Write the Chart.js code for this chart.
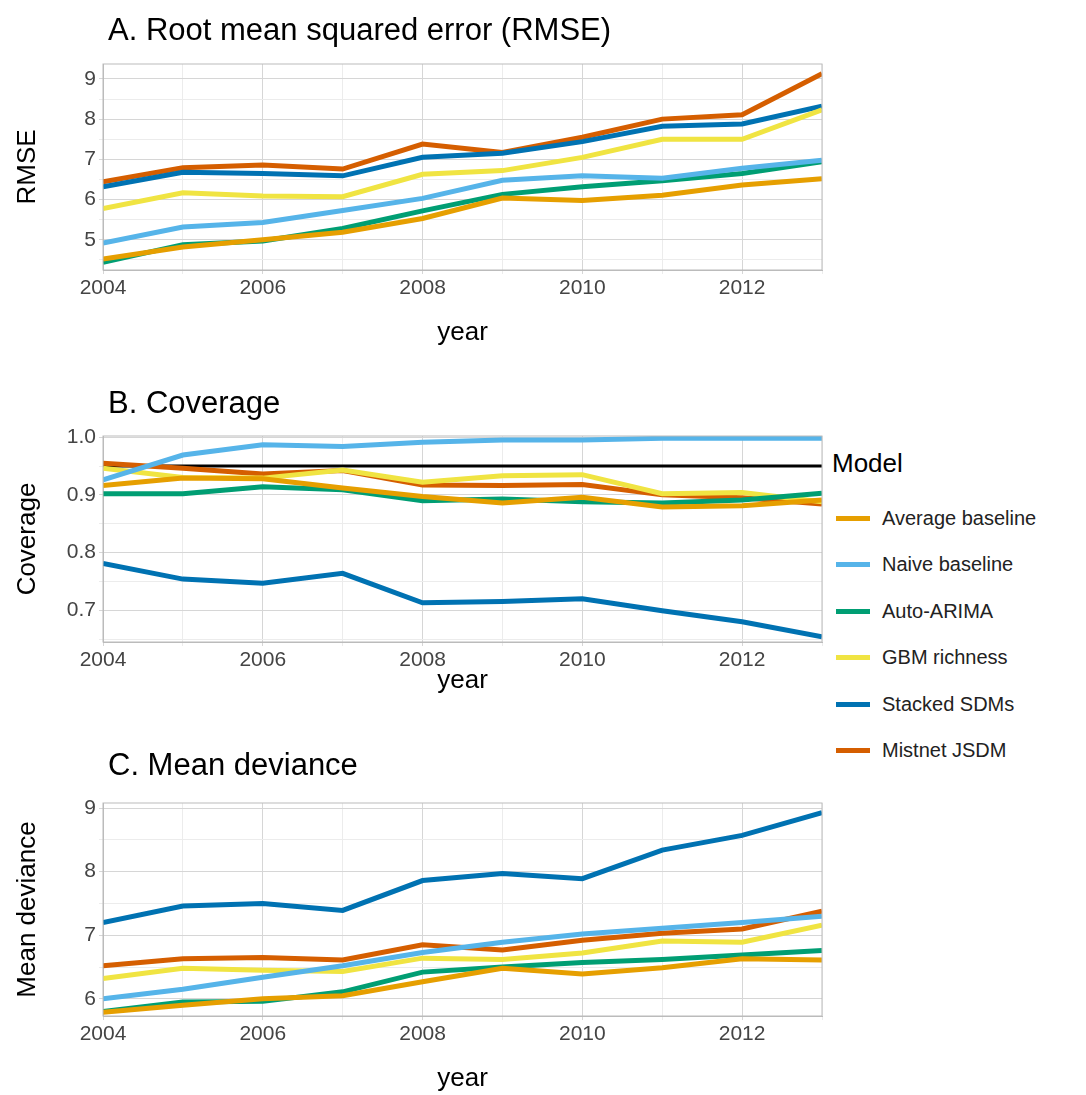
<!DOCTYPE html>
<html>
<head>
<meta charset="utf-8">
<script src="https://cdn.jsdelivr.net/npm/chart.js@4.4.0/dist/chart.umd.min.js"></script>
<style>
  body { margin: 0; background: #fff; font-family: "Liberation Sans", Arial, sans-serif; }
  .box { position: absolute; left: 0; width: 830px; }
  #legend { position: absolute; left: 832px; top: 448px; color: #000; }
  #legend .head { font-size: 26px; margin-bottom: 16px; }
  #legend .row { height: 46.5px; display: flex; align-items: center; font-size: 20px; color: #222; }
  #legend .sw { width: 34px; height: 5px; margin: 0 12px 0 4px; }
</style>
</head>
<body>
<div class="box" style="top:0;height:365px"><canvas id="cA"></canvas></div>
<div class="box" style="top:368px;height:367px"><canvas id="cB"></canvas></div>
<div class="box" style="top:740px;height:357px"><canvas id="cC"></canvas></div>
<div id="legend"></div>
<script>
const years = [2004, 2005, 2006, 2007, 2008, 2009, 2010, 2011, 2012, 2013];
const models = ['Average baseline', 'Naive baseline', 'Auto-ARIMA', 'GBM richness', 'Stacked SDMs', 'Mistnet JSDM'];
const colors = ['#E69F00', '#56B4E9', '#009E73', '#F0E442', '#0072B2', '#D55E00'];

const rmse = [
  [4.52, 4.82, 5.00, 5.19, 5.53, 6.04, 5.98, 6.11, 6.36, 6.52],
  [4.92, 5.32, 5.43, 5.73, 6.03, 6.48, 6.59, 6.53, 6.78, 6.98],
  [4.44, 4.88, 4.97, 5.28, 5.72, 6.13, 6.32, 6.47, 6.65, 6.94],
  [5.78, 6.17, 6.09, 6.07, 6.63, 6.72, 7.05, 7.50, 7.50, 8.23],
  [6.32, 6.68, 6.65, 6.59, 7.05, 7.15, 7.44, 7.82, 7.88, 8.32],
  [6.44, 6.79, 6.86, 6.76, 7.38, 7.17, 7.55, 8.00, 8.11, 9.13]
];
const coverage = [
  [0.916, 0.929, 0.928, 0.912, 0.897, 0.886, 0.896, 0.879, 0.881, 0.891],
  [0.926, 0.969, 0.987, 0.984, 0.991, 0.995, 0.995, 0.998, 0.998, 0.998],
  [0.902, 0.902, 0.914, 0.909, 0.890, 0.893, 0.888, 0.886, 0.891, 0.903],
  [0.946, 0.930, 0.929, 0.943, 0.922, 0.933, 0.935, 0.902, 0.904, 0.888],
  [0.781, 0.754, 0.747, 0.764, 0.713, 0.715, 0.720, 0.699, 0.680, 0.654],
  [0.955, 0.946, 0.936, 0.942, 0.917, 0.916, 0.918, 0.900, 0.895, 0.884]
];
const coverageTarget = 0.95;
const deviance = [
  [5.79, 5.90, 6.00, 6.05, 6.27, 6.48, 6.39, 6.49, 6.63, 6.61],
  [6.00, 6.15, 6.34, 6.52, 6.73, 6.89, 7.02, 7.11, 7.20, 7.30],
  [5.80, 5.95, 5.96, 6.11, 6.42, 6.50, 6.57, 6.62, 6.69, 6.76],
  [6.32, 6.48, 6.45, 6.43, 6.64, 6.62, 6.72, 6.91, 6.89, 7.16],
  [7.20, 7.46, 7.50, 7.39, 7.86, 7.97, 7.89, 8.34, 8.57, 8.93],
  [6.52, 6.63, 6.65, 6.61, 6.85, 6.77, 6.92, 7.03, 7.10, 7.38]
];
// y tick positions (majors labelled, minors only gridlines)
const rmseTicks = [4.5, 5, 5.5, 6, 6.5, 7, 7.5, 8, 8.5, 9];
const coverageTicks = [0.65, 0.7, 0.75, 0.8, 0.85, 0.9, 0.95, 1.0];
const devianceTicks = [6, 6.5, 7, 7.5, 8, 8.5, 9];

const font = 'Liberation Sans';

function makeChart(id, title, titleY, yTitle, series, yMin, yMax, yTicks, labelEvery, fmt, pad, xHeight, extra) {
  const datasets = series.map((vals, i) => ({
    label: models[i],
    data: vals.map((v, j) => ({ x: years[j], y: v })),
    borderColor: colors[i],
    borderWidth: 5,
    pointRadius: 0,
    tension: 0,
    fill: false
  }));
  if (extra) datasets.push(extra);
  const isMajor = v => Math.abs(v / labelEvery - Math.round(v / labelEvery)) < 1e-6;
  return new Chart(document.getElementById(id), {
    type: 'line',
    data: { datasets },
    options: {
      responsive: true,
      maintainAspectRatio: false,
      animation: false,
      layout: { padding: { left: 8, right: 8, top: pad[0], bottom: pad[1] } },
      plugins: {
        legend: { display: false },
        tooltip: { enabled: false },
        title: { display: false }
      },
      scales: {
        x: {
          type: 'linear', min: 2004, max: 2013,
          afterFit: s => { s.height = xHeight; },
          ticks: {
            stepSize: 1, color: '#444', font: { family: font, size: 21 },
            maxRotation: 0, autoSkip: false, padding: 2,
            callback: v => (v % 2 === 0 ? String(v) : '')
          },
          grid: { color: c => (c.tick.value % 2 === 0 ? '#d6d6d6' : '#ececec'), lineWidth: 1, tickLength: 4 },
          border: { color: '#bbb' },
          title: { display: true, text: 'year', color: '#000', font: { family: font, size: 26 }, padding: { top: 0, bottom: 2 } }
        },
        y: {
          min: yMin, max: yMax,
          afterFit: s => { s.width = 95; },
          afterBuildTicks: s => { s.ticks = yTicks.map(v => ({ value: v })); },
          ticks: {
            color: '#444', font: { family: font, size: 21 }, autoSkip: false,
            callback: v => (isMajor(v) ? fmt(v) : '')
          },
          grid: { color: c => (isMajor(c.tick.value) ? '#d6d6d6' : '#ececec'), lineWidth: 1, tickLength: 4 },
          border: { color: '#bbb' },
          title: { display: true, text: yTitle, color: '#000', font: { family: font, size: 26 } }
        }
      }
    },
    plugins: [{
      id: 'frameAndTitle',
      afterDraw(chart) {
        const { ctx, chartArea: a } = chart;
        ctx.save();
        ctx.strokeStyle = '#bbb';
        ctx.lineWidth = 1;
        ctx.strokeRect(a.left, a.top, a.right - a.left, a.bottom - a.top);
        ctx.fillStyle = '#000';
        ctx.font = `31px "${font}"`;
        ctx.textBaseline = 'middle';
        ctx.fillText(title, a.left + 5, titleY);
        ctx.restore();
      }
    }]
  });
}

makeChart('cA', 'A. Root mean squared error (RMSE)', 31, 'RMSE', rmse, 4.25, 9.37, rmseTicks, 1, v => v.toFixed(0), [64, 15], 80);
makeChart('cB', 'B. Coverage', 36, 'Coverage', coverage, 0.645, 1.002, coverageTicks, 0.1, v => v.toFixed(1), [68, 37], 56, {
  label: 'target',
  data: [{ x: 2004, y: coverageTarget }, { x: 2013, y: coverageTarget }],
  borderColor: '#000', borderWidth: 3, pointRadius: 0
});
makeChart('cC', 'C. Mean deviance', 26, 'Mean deviance', deviance, 5.73, 9.08, devianceTicks, 1, v => v.toFixed(0), [63, 1], 80);

const lg = document.getElementById('legend');
lg.innerHTML = '<div class="head">Model</div>' + models.map((m, i) =>
  `<div class="row"><span class="sw" style="background:${colors[i]}"></span>${m}</div>`).join('');
</script>
</body>
</html>
